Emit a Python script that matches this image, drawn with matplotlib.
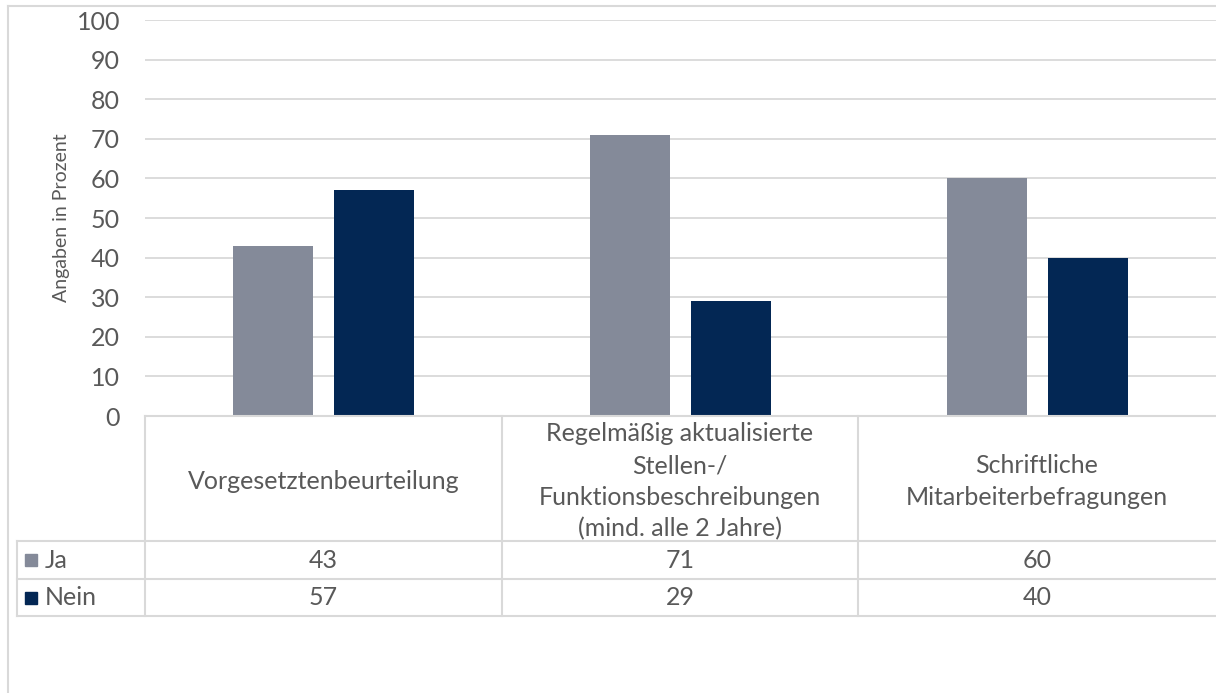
import numpy as np
import matplotlib
matplotlib.use("Agg")
import matplotlib.pyplot as plt
from matplotlib.lines import Line2D
from matplotlib.patches import Rectangle

# Survey results (percent)
categories = [
    "Vorgesetztenbeurteilung",
    "Regelmäßig aktualisierte\nStellen-/\nFunktionsbeschreibungen\n(mind. alle 2 Jahre)",
    "Schriftliche\nMitarbeiterbefragungen",
]
series_names = ["Ja", "Nein"]
ja = [43, 71, 60]
nein = [57, 29, 40]
yticks = list(range(0, 101, 10))

colors = ["#848a99", "#032754"]
text_color = "#595959"
line_color = "#d9d9d9"

plt.rcParams["font.family"] = ["Lato", "DejaVu Sans"]

W, H = 1216, 693
fig = plt.figure(figsize=(W / 100, H / 100), dpi=100)

def fx(px):
    return px / W

def fy(py):
    return 1 - py / H

# outer chart frame
fig.add_artist(Line2D([fx(8), fx(8)], [fy(6), 0], color=line_color, lw=1.5))
fig.add_artist(Line2D([fx(8), 1], [fy(6), fy(6)], color=line_color, lw=1.5))

left, right, top, bottom = 145, 1216, 20, 416
ax = fig.add_axes([fx(left), fy(bottom), fx(right) - fx(left), fy(top) - fy(bottom)])

x = np.arange(len(categories))
width = 0.224
offset = 0.142
ax.bar(x - offset, ja, width, color=colors[0], zorder=3)
ax.bar(x + offset, nein, width, color=colors[1], zorder=3)

ax.set_xlim(-0.5, len(categories) - 0.5)
ax.set_ylim(0, 100)
ax.set_yticks(yticks)
ax.set_yticklabels([str(t) for t in yticks], fontsize=18, color=text_color)
ax.tick_params(axis="y", length=0, pad=18)
ax.set_xticks([])
ax.grid(axis="y", color=line_color, lw=1.3, zorder=0)
for s in ax.spines.values():
    s.set_visible(False)

fig.text(fx(62), fy(218), "Angaben in Prozent", rotation=90, ha="center",
         va="center", fontsize=14, color=text_color)

# data table under the plot
col_edges = [left, 502, 858, 1216]
row_edges = [416, 541, 579, 616]
legend_left = 17

kw = dict(color=line_color, lw=1.5)
for cx in col_edges[:-1]:
    fig.add_artist(Line2D([fx(cx), fx(cx)], [fy(row_edges[0]), fy(row_edges[-1])], **kw))
fig.add_artist(Line2D([fx(legend_left), fx(legend_left)], [fy(row_edges[1]), fy(row_edges[-1])], **kw))
fig.add_artist(Line2D([fx(left), 1], [fy(row_edges[0]), fy(row_edges[0])], **kw))
for ry in row_edges[1:]:
    fig.add_artist(Line2D([fx(legend_left), 1], [fy(ry), fy(ry)], **kw))

for i, cat in enumerate(categories):
    cx = (col_edges[i] + col_edges[i + 1]) / 2
    fig.text(fx(cx), fy((row_edges[0] + row_edges[1]) / 2 + 3), cat, ha="center",
             va="center", fontsize=18, color=text_color, linespacing=1.45)
    for r, vals in enumerate([ja, nein]):
        ry = (row_edges[r + 1] + row_edges[r + 2]) / 2
        fig.text(fx(cx), fy(ry), str(vals[i]), ha="center", va="center",
                 fontsize=18, color=text_color)

for r, name in enumerate(series_names):
    ry = (row_edges[r + 1] + row_edges[r + 2]) / 2
    fig.add_artist(Rectangle((fx(25), fy(ry + 6)), 12 / W, 12 / H,
                             color=colors[r], transform=fig.transFigure))
    fig.text(fx(45), fy(ry), name, ha="left", va="center", fontsize=18, color=text_color)

fig.savefig("out.png", dpi=100)
